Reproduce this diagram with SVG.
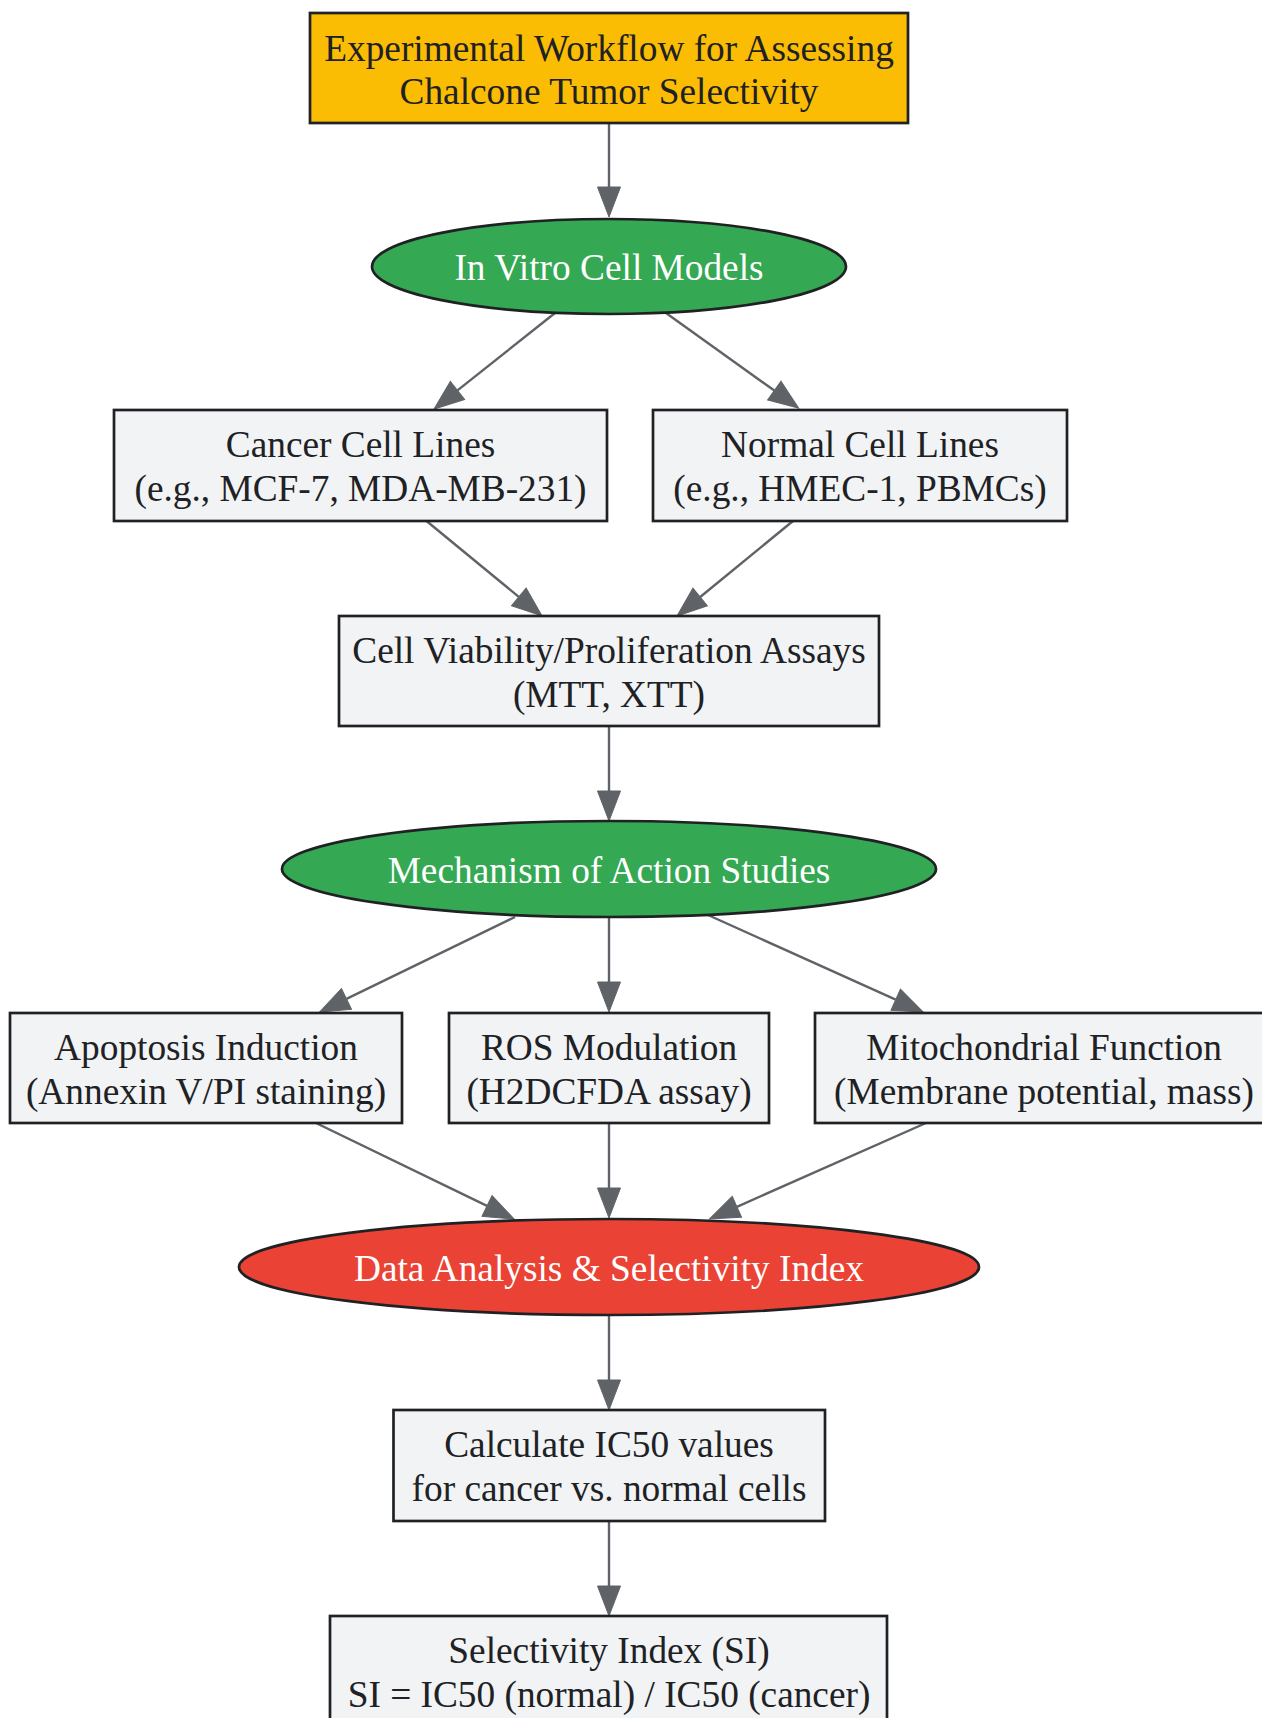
<svg xmlns="http://www.w3.org/2000/svg" width="1262" height="1718" viewBox="0 0 1262 1718">
<style>
  text { font-family: "Liberation Serif", "Times New Roman", serif; font-size: 37.33px; text-anchor: middle; fill: #202124; }
  .lt { fill: #ffffff; }
  .box { fill: #f1f3f4; stroke: #202124; stroke-width: 2.7; }
  .title { fill: #fbbc04; stroke: #202124; stroke-width: 2.7; }
  .green { fill: #34a853; stroke: #202124; stroke-width: 2.7; }
  .red { fill: #ea4335; stroke: #202124; stroke-width: 2.7; }
  .edge { fill: none; stroke: #5f6368; stroke-width: 2.4; marker-end: url(#arr); }
</style>
<defs>
  <marker id="arr" markerUnits="userSpaceOnUse" markerWidth="32" markerHeight="24" refX="0" refY="11.5" orient="auto" overflow="visible">
    <path d="M0,0 L30,11.5 L0,23 z" fill="#5f6368" stroke="#5f6368" stroke-width="1"/>
  </marker>
</defs>
<rect width="1262" height="1718" fill="#ffffff"/>
<g id="edges">
  <path class="edge" d="M609,123 L609,187"/>
  <path class="edge" d="M555,313 L457.5,390.4"/>
  <path class="edge" d="M666,313 L774.3,390.6"/>
  <path class="edge" d="M426.5,521 L518.8,596.9"/>
  <path class="edge" d="M793,521 L700.2,597"/>
  <path class="edge" d="M609,726 L609,791"/>
  <path class="edge" d="M515,917 L346.5,998.9"/>
  <path class="edge" d="M609,918 L609,982"/>
  <path class="edge" d="M708,915 L895.7,999.7"/>
  <path class="edge" d="M316,1123 L487,1205.9"/>
  <path class="edge" d="M609,1123 L609,1188"/>
  <path class="edge" d="M926,1123 L736.9,1206.8"/>
  <path class="edge" d="M609,1315 L609,1380"/>
  <path class="edge" d="M609,1521 L609,1586"/>
</g>
<g id="title">
  <rect class="title" x="310" y="13" width="598" height="110"/>
  <text x="609" y="60.5">Experimental Workflow for Assessing</text>
  <text x="609" y="104">Chalcone Tumor Selectivity</text>
</g>
<g id="invitro">
  <ellipse class="green" cx="609" cy="266.5" rx="237" ry="47.5"/>
  <text class="lt" x="609" y="280">In Vitro Cell Models</text>
</g>
<g id="cancer">
  <rect class="box" x="114" y="410" width="493" height="111"/>
  <text x="360.5" y="457">Cancer Cell Lines</text>
  <text x="360.5" y="501">(e.g., MCF-7, MDA-MB-231)</text>
</g>
<g id="normal">
  <rect class="box" x="653" y="410" width="414" height="111"/>
  <text x="860" y="457">Normal Cell Lines</text>
  <text x="860" y="501">(e.g., HMEC-1, PBMCs)</text>
</g>
<g id="viability">
  <rect class="box" x="339" y="616" width="540" height="110"/>
  <text x="609" y="662.5">Cell Viability/Proliferation Assays</text>
  <text x="609" y="706.5">(MTT, XTT)</text>
</g>
<g id="mechanism">
  <ellipse class="green" cx="609" cy="869" rx="327" ry="48"/>
  <text class="lt" x="609" y="882.5">Mechanism of Action Studies</text>
</g>
<g id="apoptosis">
  <rect class="box" x="10" y="1013" width="392" height="110"/>
  <text x="206" y="1059.5">Apoptosis Induction</text>
  <text x="206" y="1103.5">(Annexin V/PI staining)</text>
</g>
<g id="ros">
  <rect class="box" x="449" y="1013" width="320" height="110"/>
  <text x="609" y="1059.5">ROS Modulation</text>
  <text x="609" y="1103.5">(H2DCFDA assay)</text>
</g>
<g id="mito">
  <rect class="box" x="815" y="1013" width="458" height="110"/>
  <text x="1044" y="1059.5">Mitochondrial Function</text>
  <text x="1044" y="1103.5">(Membrane potential, mass)</text>
</g>
<g id="data">
  <ellipse class="red" cx="609" cy="1267" rx="370" ry="48"/>
  <text class="lt" x="609" y="1280.5">Data Analysis &amp; Selectivity Index</text>
</g>
<g id="ic50">
  <rect class="box" x="393.5" y="1410" width="431.5" height="111"/>
  <text x="609" y="1457">Calculate IC50 values</text>
  <text x="609" y="1501">for cancer vs. normal cells</text>
</g>
<g id="si">
  <rect class="box" x="330" y="1616" width="557" height="111"/>
  <text x="609" y="1663">Selectivity Index (SI)</text>
  <text x="609" y="1707">SI = IC50 (normal) / IC50 (cancer)</text>
</g>
</svg>
